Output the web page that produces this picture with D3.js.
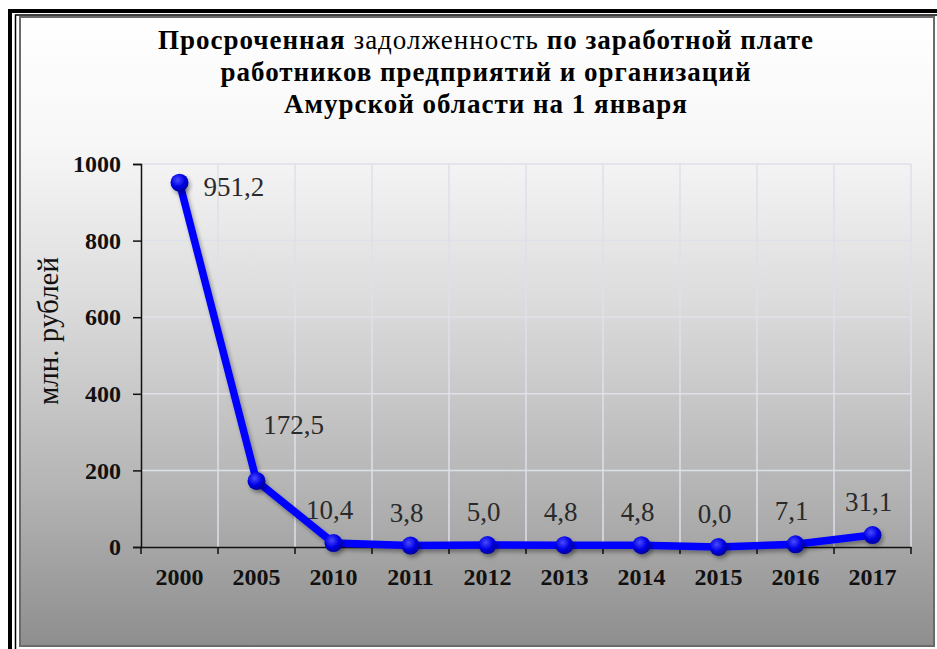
<!DOCTYPE html>
<html><head><meta charset="utf-8">
<script src="https://cdn.jsdelivr.net/npm/d3@7"></script>
<style>html,body{margin:0;padding:0;background:#fff;}svg{display:block;}
.sf{font-family:"Liberation Serif","Times New Roman",serif;}</style>
</head><body>
<svg id="c" width="937" height="649"></svg>
<script>
const years = ["2000","2005","2010","2011","2012","2013","2014","2015","2016","2017"];
const values = [951.2,172.5,10.4,3.8,5.0,4.8,4.8,0.0,7.1,31.1];
const valueLabels = ["951,2","172,5","10,4","3,8","5,0","4,8","4,8","0,0","7,1","31,1"];
const yTicks = [0,200,400,600,800,1000];
const titleLines = [
  [["Просроченная","bold"],[" задолженность","normal"],[" по заработной плате","bold"]],
  [["работников предприятий и организаций","bold"]],
  [["Амурской области на 1 января","bold"]]
];
const yTitle = "млн. рублей";

const svg = d3.select("#c");
const defs = svg.append("defs");
const bg = defs.append("linearGradient").attr("id","bg").attr("x1",0).attr("y1",0).attr("x2",0).attr("y2",1);
[[0,"#ffffff"],[0.2,"#f7f7f7"],[0.45,"#dcdcdc"],[0.75,"#b4b4b4"],[1,"#8e8e8e"]].forEach(([o,c])=>bg.append("stop").attr("offset",o).attr("stop-color",c));
const mg = defs.append("radialGradient").attr("id","mk").attr("cx","40%").attr("cy","35%").attr("r","65%");
mg.append("stop").attr("offset",0).attr("stop-color","#4a4aff");
mg.append("stop").attr("offset",0.6).attr("stop-color","#0000e6");
mg.append("stop").attr("offset",1).attr("stop-color","#00009a");
const sh = defs.append("filter").attr("id","sh").attr("x","-20%").attr("y","-20%").attr("width","140%").attr("height","160%");
sh.append("feDropShadow").attr("dx",2).attr("dy",3).attr("stdDeviation",2).attr("flood-color","#000").attr("flood-opacity",0.35);

// frame
svg.append("rect").attr("x",10).attr("y",11).attr("width",940).attr("height",660).attr("fill","none").attr("stroke","#000").attr("stroke-width",4);
svg.append("rect").attr("x",15.5).attr("y",15).attr("width",940).attr("height",660).attr("fill","none").attr("stroke","#000").attr("stroke-width",1.5);
svg.append("rect").attr("x",20).attr("y",17).attr("width",914).attr("height",629).attr("fill","url(#bg)").attr("stroke","#6a6a6a").attr("stroke-width",2);

const L=141, R=911, T=164, B=547;
const x = d3.scaleBand().domain(years).range([L,R]);
const y = d3.scaleLinear().domain([0,1000]).range([B,T]);

// gridlines
const grid = svg.append("g").attr("stroke","#dfe1ea").attr("stroke-width",1.5);
yTicks.filter(d=>d>0).forEach(t=>grid.append("line").attr("x1",L).attr("x2",R).attr("y1",y(t)).attr("y2",y(t)));
years.forEach((yr,i)=>{ const xx = x(yr)+x.bandwidth(); grid.append("line").attr("x1",xx).attr("x2",xx).attr("y1",T).attr("y2",B); });

// axes
const yAx = svg.append("g").attr("transform",`translate(${L},0)`).call(d3.axisLeft(y).tickValues(yTicks).tickSize(8).tickPadding(12).tickFormat(d3.format("d")));
yAx.attr("font-family",null);
yAx.selectAll("text").attr("class","sf").style("font-weight","bold").style("font-size","24px").attr("fill","#111");
yAx.select(".domain").attr("stroke","#111").attr("stroke-width",1.5);
yAx.selectAll(".tick line").attr("stroke","#111").attr("stroke-width",1.5);

const xAx = svg.append("g").attr("transform",`translate(0,${B})`).call(d3.axisBottom(x).tickSize(0).tickPadding(21));
xAx.attr("font-family",null);
xAx.selectAll("text").attr("class","sf").style("font-weight","bold").style("font-size","24px").attr("fill","#111");
xAx.select(".domain").attr("stroke","#111").attr("stroke-width",1.5);
const bounds = [L].concat(years.map(yr=>x(yr)+x.bandwidth()));
xAx.selectAll(".bt").data(bounds).enter().append("line").attr("x1",d=>d).attr("x2",d=>d).attr("y1",0).attr("y2",7).attr("stroke","#111").attr("stroke-width",1.5);

// line
const cx = d=>x(d)+x.bandwidth()/2;
const pts = years.map((yr,i)=>[cx(yr), y(values[i])]);
svg.append("path").attr("d",d3.line()(pts)).attr("fill","none").attr("stroke","#0000ff").attr("stroke-width",7.5).attr("stroke-linejoin","round").attr("filter","url(#sh)");
svg.selectAll(".mk").data(pts).enter().append("circle").attr("cx",d=>d[0]).attr("cy",d=>d[1]).attr("r",9).attr("fill","url(#mk)").attr("filter","url(#sh)");

// labels
svg.selectAll(".vl").data(valueLabels).enter().append("text").attr("class","sf")
  .attr("x",(d,i)=> i===0 ? pts[i][0]+24 : i===1 ? pts[i][0]+37 : pts[i][0]-4)
  .attr("y",(d,i)=> i===0 ? pts[i][1]+13 : i===1 ? pts[i][1]-47 : pts[i][1]-24)
  .attr("text-anchor",(d,i)=> i===0 ? "start" : "middle")
  .style("font-size","27px").attr("fill","#2a2a2a").text(d=>d);

// y title
svg.append("text").attr("class","sf").attr("transform",`translate(58,331) rotate(-90)`).attr("text-anchor","middle")
  .style("font-size","29px").attr("fill","#111").text(yTitle);

// title
const tb = [49,81,113];
titleLines.forEach((parts,i)=>{
  const t = svg.append("text").attr("class","sf").attr("x",486).attr("y",tb[i]).attr("text-anchor","middle")
    .style("font-size","27px").style("letter-spacing","1px").attr("fill","#000");
  parts.forEach(p=>t.append("tspan").style("font-weight",p[1]).text(p[0]));
});
</script>
</body></html>
